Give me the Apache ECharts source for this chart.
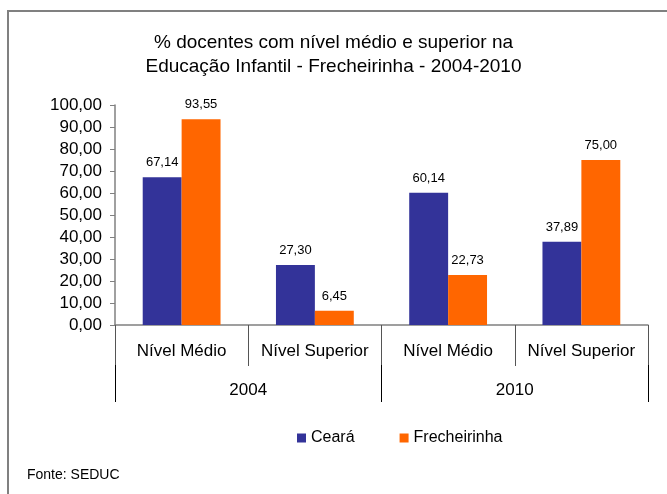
<!DOCTYPE html>
<html>
<head>
<meta charset="utf-8">
<script src="https://cdn.jsdelivr.net/npm/echarts@6/dist/echarts.min.js"></script>
<style>html,body{margin:0;padding:0;background:#fff}#c{width:667px;height:494px}</style>
</head>
<body>
<div id="c"></div>
<script>
var categories = ['Nível Médio', 'Nível Superior', 'Nível Médio', 'Nível Superior'];
var years = ['2004', '2010'];
var ceara = [67.14, 27.30, 60.14, 37.89];
var frecheirinha = [93.55, 6.45, 22.73, 75.00];
var yTicks = { min: 0, max: 100, interval: 10 };

function fmt(v) { return Number(v).toFixed(2).replace('.', ','); }

var FONT = '"Liberation Sans", Arial, sans-serif';
var chart = echarts.init(document.getElementById('c'), null, { renderer: 'canvas' });
chart.setOption({
  backgroundColor: '#ffffff',
  animation: false,
  textStyle: { fontFamily: FONT, color: '#000' },
  title: {
    text: '% docentes com nível médio e superior na\nEducação Infantil - Frecheirinha - 2004-2010',
    left: 'center',
    top: 26,
    textStyle: { fontFamily: FONT, fontSize: 19, fontWeight: 'normal', color: '#000', lineHeight: 24 }
  },
  legend: {
    left: 292,
    top: 425,
    itemWidth: 9,
    itemHeight: 9,
    itemGap: 45,
    icon: 'rect',
    textStyle: { fontFamily: FONT, fontSize: 16, color: '#000', padding: [0, 0, 0, 0] },
    data: ['Ceará', 'Frecheirinha']
  },
  grid: { left: 115, right: 19, top: 105, bottom: 169 },
  xAxis: [
    {
      type: 'category',
      data: categories,
      boundaryGap: true,
      axisLine: { lineStyle: { color: '#808080', width: 1.5 } },
      axisTick: { show: true, interval: 0, length: 41, lineStyle: { color: '#555' } },
      axisLabel: { interval: 0, margin: 18, fontFamily: FONT, fontSize: 17, color: '#000' }
    },
    {
      type: 'category',
      data: years,
      position: 'bottom',
      offset: 40,
      boundaryGap: true,
      axisLine: { show: false },
      axisTick: { show: true, interval: 0, length: 37, lineStyle: { color: '#000' } },
      axisLabel: { interval: 0, margin: 17, fontFamily: FONT, fontSize: 17, color: '#000' }
    }
  ],
  yAxis: {
    type: 'value',
    min: yTicks.min,
    max: yTicks.max,
    interval: yTicks.interval,
    splitLine: { show: false },
    axisLine: { show: true, lineStyle: { color: '#808080', width: 1.5 } },
    axisTick: { show: true, length: 5, lineStyle: { color: '#808080' } },
    axisLabel: { margin: 13, fontFamily: FONT, fontSize: 17, color: '#000', formatter: fmt }
  },
  series: [
    {
      name: 'Ceará',
      type: 'bar',
      data: ceara,
      barGap: '0%',
      barCategoryGap: '41.6%',
      itemStyle: { color: '#333399' },
      label: { show: true, position: 'top', distance: 8, fontFamily: FONT, fontSize: 13, color: '#000', formatter: function (p) { return fmt(p.value); } }
    },
    {
      name: 'Frecheirinha',
      type: 'bar',
      data: frecheirinha,
      barGap: '0%',
      barCategoryGap: '41.6%',
      itemStyle: { color: '#FF6600' },
      label: { show: true, position: 'top', distance: 8, fontFamily: FONT, fontSize: 13, color: '#000', formatter: function (p) { return fmt(p.value); } }
    }
  ],
  graphic: [
    {
      type: 'rect',
      shape: { x: 8, y: 11, width: 700, height: 520 },
      style: { fill: 'none', stroke: '#808080', lineWidth: 2 },
      silent: true
    },
    {
      type: 'text',
      left: 27,
      top: 468,
      style: { text: 'Fonte: SEDUC', font: '14px ' + FONT, fill: '#000' }
    }
  ]
});
</script>
</body>
</html>
